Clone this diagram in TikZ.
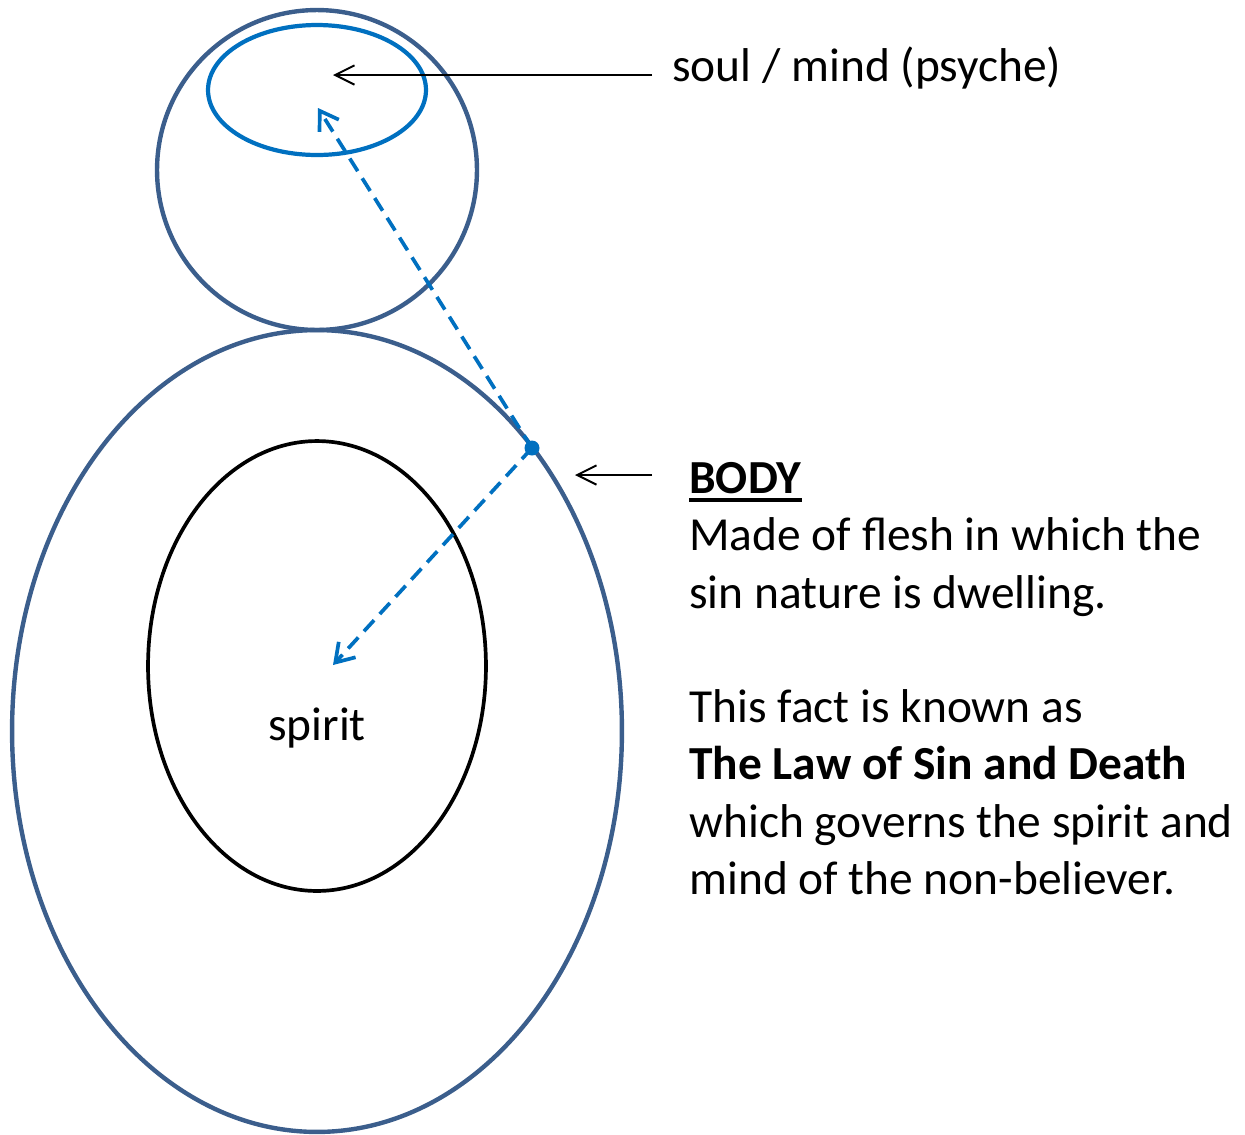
\documentclass[tikz,border=0pt]{standalone}
\usepackage{fontspec}
\setmainfont{Carlito}
\usepackage{xcolor}
\usetikzlibrary{shapes.geometric, arrows.meta, positioning}

\definecolor{outline}{RGB}{59,94,140}
\definecolor{mindblue}{RGB}{0,112,192}
\newcommand{\thickul}[1]{\leavevmode\vtop{\hbox{#1}\kern2.4pt\hrule height 2pt}}

\begin{document}
\begin{tikzpicture}[x=0.02cm, y=-0.02cm]
\tikzstyle{shell} = [ellipse, draw=outline, line width=2.5pt, inner sep=0pt]
\tikzstyle{core} = [ellipse, draw=black, line width=2.1pt, inner sep=0pt]
\tikzstyle{psyche} = [ellipse, draw=mindblue, line width=2.4pt, inner sep=0pt]
\tikzstyle{label} = [inner sep=0pt, font=\fontsize{27}{32.6}\selectfont]
\tikzstyle{pointer} = [line width=1.1pt, -{Straight Barb[length=11pt, width=11pt]}]
\tikzstyle{flow} = [mindblue, line width=2.1pt, dash pattern=on 8.5pt off 4.8pt, -{Straight Barb[length=10pt, width=13pt]}]

\useasboundingbox (0,0) rectangle (1245,1134);

\node (head) [shell, circle, minimum size=6.4cm] at (317,170) {};
\node (mind) [psyche, minimum width=4.36cm, minimum height=2.6cm] at (317,90) {};
\node (body) [shell, minimum width=12.2cm, minimum height=16.04cm] at (317,731) {};
\node (spirit) [core, minimum width=6.76cm, minimum height=9cm] at (317,666) {};
\node (spiritlbl) [label] at (317,728) {spirit};

\node (soullbl) [label, anchor=west] at (672,68) {soul / mind (psyche)};
\node (bodytxt) [label, anchor=north west, align=left] at (689,462) {\thickul{\textbf{BODY}}\\
Made of flesh in which the\\
sin nature is dwelling.\\
\\
This fact is known as\\
\textbf{The Law of Sin and Death}\\
which governs the spirit and\\
mind of the non-believer.};

\coordinate (soulend) at (333,75);
\coordinate (soulstart) at (652,75);
\coordinate (bodyend) at (575,475);
\coordinate (bodystart) at (652,475);
\coordinate (mindend) at (318,108);
\coordinate (spiritend) at (333,665);
\node (link) [circle, fill=mindblue, minimum size=0.3cm, inner sep=0pt] at (532,448) {};

\draw [pointer] (soulstart) -- (soulend);
\draw [pointer] (bodystart) -- (bodyend);
\draw [flow] (link.center) -- (mindend);
\draw [flow] (link.center) -- (spiritend);
\end{tikzpicture}
\end{document}
